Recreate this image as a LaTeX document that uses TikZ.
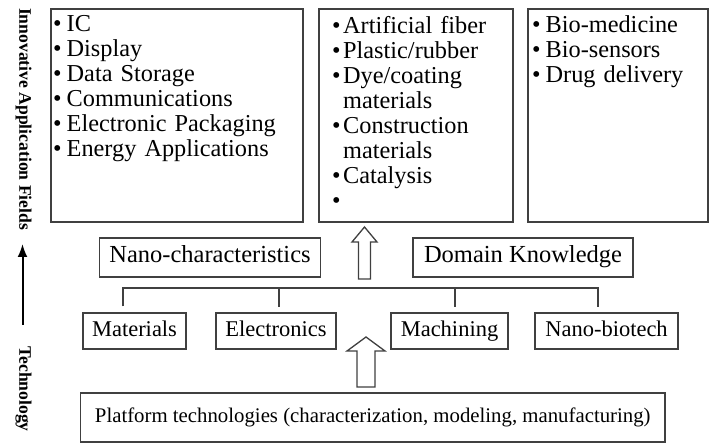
\documentclass[tikz,border=0pt]{standalone}
\usepackage{fontspec}
\setmainfont{Liberation Serif}
\usetikzlibrary{arrows.meta}
\newcommand\tightbul{\makebox[13.5pt][l]{•}}
\newcommand\widebul{\makebox[11pt][l]{•}}
\newcommand\bulindent{\hspace*{11pt}}
\begin{document}
\begin{tikzpicture}[x=1pt,y=-1pt,
  frame/.style={draw=black!75, line width=1.3pt, inner sep=0pt},
  field/.style={frame, minimum height=213pt},
  listtext/.style={anchor=base west, inner sep=0pt, align=left,
    font=\fontsize{24.3}{25}\selectfont},
  keybox/.style={frame, minimum height=39pt, text height=16.5pt, text depth=5.5pt,
    font=\fontsize{24.5}{26}\selectfont},
  techbox/.style={frame, minimum height=36pt, text height=15.5pt, text depth=5pt,
    font=\fontsize{22.5}{24}\selectfont},
  side/.style={inner sep=0pt, rotate=-90, font=\fontsize{17.6}{20}\selectfont\bfseries},
  link/.style={draw=black!75, line width=1.3pt},
  hollow/.style={draw=black!75, line width=1.3pt, fill=white, line join=miter}]
\useasboundingbox (0,0) rectangle (709,443);

% application fields
\node[field, minimum width=252pt] (fieldA) at (177,115.5) {};
\node[field, minimum width=194pt] (fieldB) at (416,115.5) {};
\node[field, minimum width=180pt] (fieldC) at (618,115.5) {};

\node[listtext, text width=245pt] (listA) at (53,32)
  {\tightbul IC\\ \tightbul Display\\ \tightbul Data Storage\\ \tightbul Communications\\
   \tightbul Electronic Packaging\\ \tightbul Energy Applications};
\node[listtext, text width=178pt] (listB) at (332,34)
  {\widebul Artificial fiber\\ \widebul Plastic/rubber\\ \widebul Dye/coating\\
   \bulindent materials\\ \widebul Construction\\ \bulindent materials\\
   \widebul Catalysis\\ \widebul};
\node[listtext, text width=170pt] (listC) at (532,33)
  {\tightbul Bio-medicine\\ \tightbul Bio-sensors\\ \tightbul Drug delivery};

% knowledge layer
\node[keybox, minimum width=221pt] (nano) at (210,257.5) {Nano-characteristics};
\node[keybox, minimum width=220pt] (domain) at (523,257.5) {Domain Knowledge};

% technology layer
\node[techbox, minimum width=103pt] (mat) at (134.5,331) {Materials};
\node[techbox, minimum width=120pt] (elec) at (276,331) {Electronics};
\node[techbox, minimum width=117pt] (mach) at (449.5,331) {Machining};
\node[techbox, minimum width=143pt] (bio) at (606.5,331) {Nano-biotech};

\node[frame, minimum width=584.5pt, minimum height=49pt,
  font=\fontsize{20.8}{22}\selectfont] (platform) at (372.75,417.5)
  {Platform technologies (characterization, modeling, manufacturing)};

% bracket joining the technology boxes
\coordinate (brL) at (123,288);
\coordinate (brR) at (598,288);
\draw[link] (brL |- mat.north) ++(0,-6) -- (brL) -- (brR) -- ++(0,19);
\draw[link] (279,288) -- (279,307);
\draw[link] (455,288) -- (455,307);

% hollow block arrows
\coordinate (upTip) at (364.5,227);
\draw[hollow] (upTip) -- ++(12.5,15) -- ++(-6.5,0) -- ++(0,37) -- ++(-12,0)
  -- ++(0,-37) -- ++(-6.5,0) -- cycle;
\coordinate (lowTip) at (366,337);
\draw[hollow] (lowTip) -- ++(19,14) -- ++(-10,0) -- ++(0,36) -- ++(-18,0)
  -- ++(0,-36) -- ++(-10,0) -- cycle;

% side axis
\node[side] (appl) at (23.5,119) {Innovative Application Fields};
\node[side] (tech) at (23.5,389) {Technology};
\coordinate (axisFoot) at (22.5,325);
\coordinate (axisHead) at (22.5,244);
\draw[line width=2pt, -{Latex[length=13pt,width=10pt]}] (axisFoot) -- (axisHead);
\end{tikzpicture}
\end{document}
